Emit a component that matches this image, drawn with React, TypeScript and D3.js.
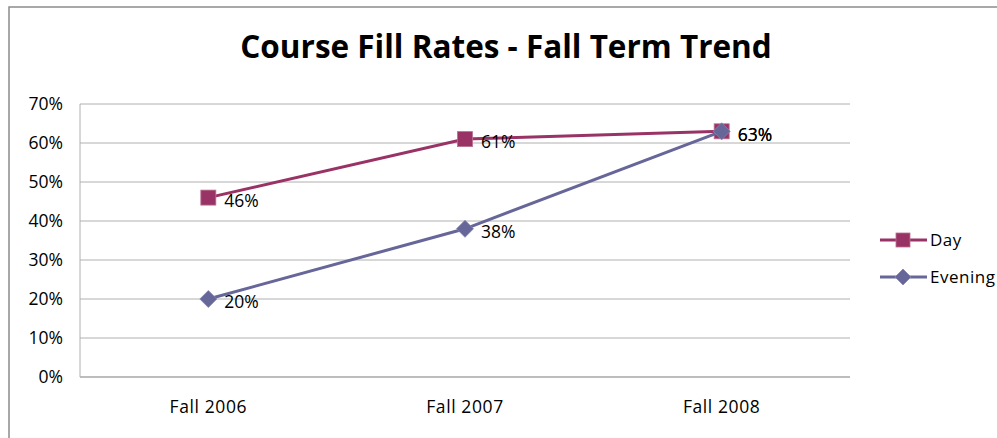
import React from "react";
import * as d3 from "d3";

const categories = ["Fall 2006", "Fall 2007", "Fall 2008"];
const daySeries = [0.46, 0.61, 0.63];
const eveningSeries = [0.2, 0.38, 0.63];
const yTicks = [0, 0.1, 0.2, 0.3, 0.4, 0.5, 0.6, 0.7];
const seriesNames = ["Day", "Evening"];
const title = "Course Fill Rates - Fall Term Trend";

const W = 997;
const H = 438;
const plot = { left: 80, right: 850, top: 104, bottom: 377 };
const FONT = "'Open Sans', 'Noto Sans', sans-serif";
const DAY = "#993366";
const EVE = "#666699";

export default function App() {
  const x = d3.scaleBand<string>().domain(categories).range([plot.left, plot.right]);
  const y = d3.scaleLinear().domain([0, 0.7]).range([plot.bottom, plot.top]);
  const cx = (c: string) => (x(c) as number) + x.bandwidth() / 2;
  const line = d3
    .line<number>()
    .x((_, i) => cx(categories[i]))
    .y((v) => y(v));
  const fmt = d3.format(".0%");

  const square = (px: number, py: number, key: string, s = 15) => (
    <rect key={key} x={px - s / 2} y={py - s / 2} width={s} height={s} fill={DAY} stroke="#b9718f" strokeWidth={0.8} />
  );
  const diamond = (px: number, py: number, key: string, s = 8.5) => (
    <path key={key} d={`M${px},${py - s}L${px + s},${py}L${px},${py + s}L${px - s},${py}Z`} fill={EVE} stroke="#8585b0" strokeWidth={0.8} />
  );

  const series = [
    { name: seriesNames[0], values: daySeries, color: DAY, marker: square },
    { name: seriesNames[1], values: eveningSeries, color: EVE, marker: diamond },
  ];

  return (
    <svg width={W} height={H} style={{ position: "absolute", left: 0, top: 0, background: "#fff" }}>
      <rect x={9} y={7} width={1100} height={600} fill="#fff" stroke="#8c8c8c" strokeWidth={1.5} />
      <text x={506} y={58} textAnchor="middle" fontFamily={FONT} fontWeight={700} fontSize={31.5} fill="#000">
        {title}
      </text>
      {yTicks.map((t) => (
        <g key={t}>
          <line x1={plot.left} x2={plot.right} y1={y(t)} y2={y(t)} stroke={t === 0 ? "#bdbdbd" : "#b0b0b0"} strokeWidth={t === 0 ? 2 : 1} />
          <text x={63} y={y(t)} dy="0.36em" textAnchor="end" fontFamily={FONT} fontSize={17.5} fill="#000">
            {fmt(t)}
          </text>
        </g>
      ))}
      <line x1={plot.left} x2={plot.left} y1={plot.top} y2={plot.bottom} stroke="#b0b0b0" strokeWidth={1} />
      {categories.map((c) => (
        <text key={c} x={cx(c)} y={413} textAnchor="middle" fontFamily={FONT} fontSize={17.5} letterSpacing={0.6} fill="#000">
          {c}
        </text>
      ))}
      {series.map((s) => (
        <g key={s.name}>
          <path d={line(s.values) as string} fill="none" stroke={s.color} strokeWidth={3} />
          {s.values.map((v, i) => s.marker(cx(categories[i]), y(v), `${s.name}-${i}`))}
        </g>
      ))}
      {series.map((s) =>
        s.values.map((v, i) => (
          <text key={`${s.name}-l-${i}`} x={cx(categories[i]) + 16} y={y(v) + 3} dy="0.36em" fontFamily={FONT} fontSize={17.5} fill="#000">
            {fmt(v)}
          </text>
        ))
      )}
      {series.map((s, i) => {
        const ly = 240 + i * 37;
        return (
          <g key={`leg-${s.name}`}>
            <line x1={880} x2={927} y1={ly} y2={ly} stroke={s.color} strokeWidth={3} />
            {s.marker(903, ly, `leg-m-${s.name}`, i === 0 ? 14 : 8)}
            <text x={930} y={ly} dy="0.36em" fontFamily={FONT} fontSize={17} letterSpacing={0.5} fill="#000">
              {s.name}
            </text>
          </g>
        );
      })}
    </svg>
  );
}
